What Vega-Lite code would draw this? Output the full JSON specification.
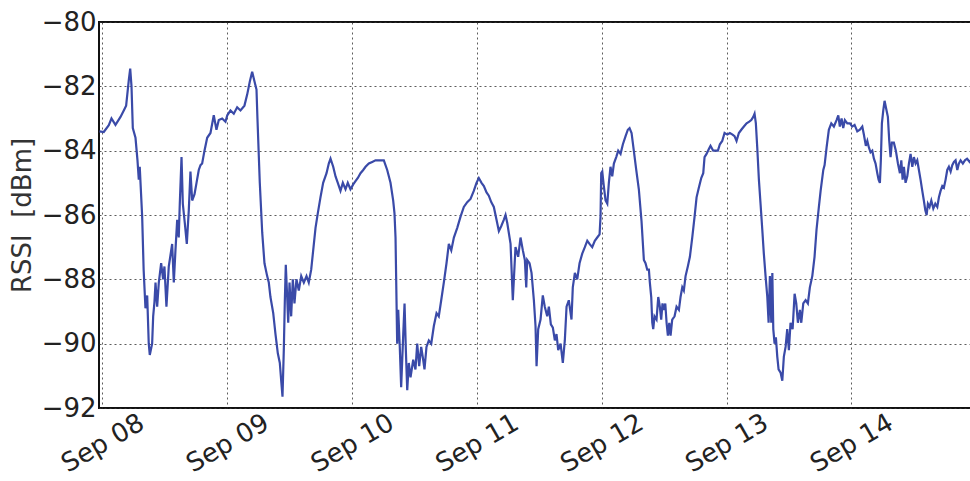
{
  "$schema": "https://vega.github.io/schema/vega-lite/v6.json",
  "autosize": {"type": "none"},
  "padding": {"left": 99, "top": 22, "right": 0, "bottom": 73},
  "width": 872,
  "height": 386,
  "background": "white",
  "config": {
    "view": {"stroke": "#111", "strokeWidth": 2},
    "axis": {"labelFont": "DejaVu Sans", "titleFont": "DejaVu Sans"}
  },
  "data": {"values": [
    {"t": "2014-09-07T23:25", "rssi": -83.4},
    {"t": "2014-09-08T00:15", "rssi": -83.42},
    {"t": "2014-09-08T01:13", "rssi": -83.21},
    {"t": "2014-09-08T01:44", "rssi": -83.0},
    {"t": "2014-09-08T02:30", "rssi": -83.2},
    {"t": "2014-09-08T03:28", "rssi": -82.95},
    {"t": "2014-09-08T04:06", "rssi": -82.75},
    {"t": "2014-09-08T04:33", "rssi": -82.6},
    {"t": "2014-09-08T05:04", "rssi": -81.8},
    {"t": "2014-09-08T05:20", "rssi": -81.45},
    {"t": "2014-09-08T05:35", "rssi": -82.0},
    {"t": "2014-09-08T05:50", "rssi": -83.3},
    {"t": "2014-09-08T06:21", "rssi": -83.6},
    {"t": "2014-09-08T06:44", "rssi": -84.3},
    {"t": "2014-09-08T06:59", "rssi": -84.9},
    {"t": "2014-09-08T07:10", "rssi": -84.5},
    {"t": "2014-09-08T07:38", "rssi": -86.05},
    {"t": "2014-09-08T07:55", "rssi": -87.7},
    {"t": "2014-09-08T08:16", "rssi": -88.9},
    {"t": "2014-09-08T08:36", "rssi": -88.5},
    {"t": "2014-09-08T08:54", "rssi": -90.0},
    {"t": "2014-09-08T09:06", "rssi": -90.35},
    {"t": "2014-09-08T09:33", "rssi": -90.0},
    {"t": "2014-09-08T09:45", "rssi": -89.15},
    {"t": "2014-09-08T10:00", "rssi": -88.7},
    {"t": "2014-09-08T10:12", "rssi": -88.1},
    {"t": "2014-09-08T10:31", "rssi": -88.85},
    {"t": "2014-09-08T10:50", "rssi": -88.1},
    {"t": "2014-09-08T11:17", "rssi": -87.5},
    {"t": "2014-09-08T11:40", "rssi": -88.0},
    {"t": "2014-09-08T11:55", "rssi": -87.6},
    {"t": "2014-09-08T12:18", "rssi": -88.85},
    {"t": "2014-09-08T12:45", "rssi": -87.6},
    {"t": "2014-09-08T13:24", "rssi": -86.9},
    {"t": "2014-09-08T13:43", "rssi": -88.1},
    {"t": "2014-09-08T14:02", "rssi": -87.1},
    {"t": "2014-09-08T14:22", "rssi": -86.15},
    {"t": "2014-09-08T14:40", "rssi": -86.7},
    {"t": "2014-09-08T14:52", "rssi": -85.65},
    {"t": "2014-09-08T15:12", "rssi": -84.2},
    {"t": "2014-09-08T15:27", "rssi": -85.65},
    {"t": "2014-09-08T15:50", "rssi": -86.25},
    {"t": "2014-09-08T16:13", "rssi": -86.9},
    {"t": "2014-09-08T16:36", "rssi": -85.85},
    {"t": "2014-09-08T16:55", "rssi": -84.65},
    {"t": "2014-09-08T17:15", "rssi": -85.55},
    {"t": "2014-09-08T17:42", "rssi": -85.35},
    {"t": "2014-09-08T18:05", "rssi": -85.0},
    {"t": "2014-09-08T18:31", "rssi": -84.6},
    {"t": "2014-09-08T18:51", "rssi": -84.45},
    {"t": "2014-09-08T19:10", "rssi": -84.4},
    {"t": "2014-09-08T19:37", "rssi": -84.0},
    {"t": "2014-09-08T20:08", "rssi": -83.6},
    {"t": "2014-09-08T20:46", "rssi": -83.45},
    {"t": "2014-09-08T21:24", "rssi": -82.9},
    {"t": "2014-09-08T21:55", "rssi": -83.35},
    {"t": "2014-09-08T22:22", "rssi": -83.05},
    {"t": "2014-09-08T23:01", "rssi": -83.0},
    {"t": "2014-09-08T23:39", "rssi": -83.1},
    {"t": "2014-09-09T00:00", "rssi": -82.9},
    {"t": "2014-09-09T00:37", "rssi": -82.75},
    {"t": "2014-09-09T01:15", "rssi": -82.85},
    {"t": "2014-09-09T01:54", "rssi": -82.65},
    {"t": "2014-09-09T02:32", "rssi": -82.75},
    {"t": "2014-09-09T03:18", "rssi": -82.6},
    {"t": "2014-09-09T03:50", "rssi": -82.25},
    {"t": "2014-09-09T04:20", "rssi": -81.85},
    {"t": "2014-09-09T04:47", "rssi": -81.55},
    {"t": "2014-09-09T05:14", "rssi": -81.85},
    {"t": "2014-09-09T05:37", "rssi": -82.1},
    {"t": "2014-09-09T05:48", "rssi": -83.0},
    {"t": "2014-09-09T06:15", "rssi": -85.0},
    {"t": "2014-09-09T06:43", "rssi": -86.55},
    {"t": "2014-09-09T07:09", "rssi": -87.5},
    {"t": "2014-09-09T07:40", "rssi": -87.9},
    {"t": "2014-09-09T07:59", "rssi": -88.1},
    {"t": "2014-09-09T08:18", "rssi": -88.55},
    {"t": "2014-09-09T08:50", "rssi": -89.05},
    {"t": "2014-09-09T09:16", "rssi": -89.7},
    {"t": "2014-09-09T09:43", "rssi": -90.3},
    {"t": "2014-09-09T10:06", "rssi": -90.6},
    {"t": "2014-09-09T10:25", "rssi": -91.25},
    {"t": "2014-09-09T10:37", "rssi": -91.65},
    {"t": "2014-09-09T10:52", "rssi": -90.2},
    {"t": "2014-09-09T11:04", "rssi": -88.65},
    {"t": "2014-09-09T11:15", "rssi": -87.55},
    {"t": "2014-09-09T11:31", "rssi": -88.55},
    {"t": "2014-09-09T11:43", "rssi": -89.35},
    {"t": "2014-09-09T11:58", "rssi": -88.1},
    {"t": "2014-09-09T12:17", "rssi": -89.15},
    {"t": "2014-09-09T12:36", "rssi": -88.0},
    {"t": "2014-09-09T12:55", "rssi": -88.75},
    {"t": "2014-09-09T13:18", "rssi": -88.0},
    {"t": "2014-09-09T13:45", "rssi": -88.35},
    {"t": "2014-09-09T14:13", "rssi": -87.9},
    {"t": "2014-09-09T14:43", "rssi": -88.1},
    {"t": "2014-09-09T15:14", "rssi": -87.9},
    {"t": "2014-09-09T15:40", "rssi": -88.1},
    {"t": "2014-09-09T16:08", "rssi": -87.7},
    {"t": "2014-09-09T16:31", "rssi": -87.1},
    {"t": "2014-09-09T16:58", "rssi": -86.4},
    {"t": "2014-09-09T17:24", "rssi": -85.95},
    {"t": "2014-09-09T17:55", "rssi": -85.45},
    {"t": "2014-09-09T18:26", "rssi": -85.0},
    {"t": "2014-09-09T19:05", "rssi": -84.7},
    {"t": "2014-09-09T19:31", "rssi": -84.4},
    {"t": "2014-09-09T19:51", "rssi": -84.25},
    {"t": "2014-09-09T20:22", "rssi": -84.5},
    {"t": "2014-09-09T20:49", "rssi": -84.8},
    {"t": "2014-09-09T21:15", "rssi": -85.0},
    {"t": "2014-09-09T21:46", "rssi": -85.25},
    {"t": "2014-09-09T22:13", "rssi": -85.0},
    {"t": "2014-09-09T22:44", "rssi": -85.2},
    {"t": "2014-09-09T23:10", "rssi": -85.0},
    {"t": "2014-09-09T23:41", "rssi": -85.2},
    {"t": "2014-09-10T00:13", "rssi": -85.05},
    {"t": "2014-09-10T00:39", "rssi": -84.95},
    {"t": "2014-09-10T01:06", "rssi": -84.85},
    {"t": "2014-09-10T01:37", "rssi": -84.7},
    {"t": "2014-09-10T02:08", "rssi": -84.6},
    {"t": "2014-09-10T02:35", "rssi": -84.5},
    {"t": "2014-09-10T03:13", "rssi": -84.4},
    {"t": "2014-09-10T03:52", "rssi": -84.35},
    {"t": "2014-09-10T04:30", "rssi": -84.3},
    {"t": "2014-09-10T05:08", "rssi": -84.3},
    {"t": "2014-09-10T06:06", "rssi": -84.3},
    {"t": "2014-09-10T06:45", "rssi": -84.6},
    {"t": "2014-09-10T07:23", "rssi": -85.0},
    {"t": "2014-09-10T07:54", "rssi": -85.55},
    {"t": "2014-09-10T08:09", "rssi": -85.95},
    {"t": "2014-09-10T08:21", "rssi": -86.7},
    {"t": "2014-09-10T08:29", "rssi": -88.1},
    {"t": "2014-09-10T08:40", "rssi": -90.0},
    {"t": "2014-09-10T08:52", "rssi": -88.95},
    {"t": "2014-09-10T09:10", "rssi": -90.1},
    {"t": "2014-09-10T09:26", "rssi": -91.35},
    {"t": "2014-09-10T09:50", "rssi": -89.7},
    {"t": "2014-09-10T10:05", "rssi": -88.75},
    {"t": "2014-09-10T10:20", "rssi": -90.2},
    {"t": "2014-09-10T10:36", "rssi": -91.45},
    {"t": "2014-09-10T10:54", "rssi": -90.6},
    {"t": "2014-09-10T11:14", "rssi": -91.05},
    {"t": "2014-09-10T11:45", "rssi": -90.5},
    {"t": "2014-09-10T12:11", "rssi": -90.8},
    {"t": "2014-09-10T12:31", "rssi": -90.0},
    {"t": "2014-09-10T12:54", "rssi": -90.7},
    {"t": "2014-09-10T13:17", "rssi": -90.1},
    {"t": "2014-09-10T13:40", "rssi": -90.5},
    {"t": "2014-09-10T13:55", "rssi": -90.8},
    {"t": "2014-09-10T14:18", "rssi": -90.1},
    {"t": "2014-09-10T14:45", "rssi": -89.9},
    {"t": "2014-09-10T15:13", "rssi": -90.0},
    {"t": "2014-09-10T15:43", "rssi": -89.45},
    {"t": "2014-09-10T16:14", "rssi": -89.05},
    {"t": "2014-09-10T16:40", "rssi": -89.15},
    {"t": "2014-09-10T17:08", "rssi": -88.65},
    {"t": "2014-09-10T17:38", "rssi": -88.1},
    {"t": "2014-09-10T18:09", "rssi": -87.5},
    {"t": "2014-09-10T18:36", "rssi": -86.9},
    {"t": "2014-09-10T19:04", "rssi": -87.1},
    {"t": "2014-09-10T19:34", "rssi": -86.7},
    {"t": "2014-09-10T20:13", "rssi": -86.4},
    {"t": "2014-09-10T20:51", "rssi": -86.05},
    {"t": "2014-09-10T21:29", "rssi": -85.75},
    {"t": "2014-09-10T22:08", "rssi": -85.6},
    {"t": "2014-09-10T22:46", "rssi": -85.5},
    {"t": "2014-09-10T23:24", "rssi": -85.25},
    {"t": "2014-09-10T23:55", "rssi": -85.0},
    {"t": "2014-09-11T00:22", "rssi": -84.85},
    {"t": "2014-09-11T00:53", "rssi": -85.0},
    {"t": "2014-09-11T01:20", "rssi": -85.1},
    {"t": "2014-09-11T01:51", "rssi": -85.3},
    {"t": "2014-09-11T02:17", "rssi": -85.4},
    {"t": "2014-09-11T02:45", "rssi": -85.6},
    {"t": "2014-09-11T03:15", "rssi": -85.75},
    {"t": "2014-09-11T03:46", "rssi": -86.15},
    {"t": "2014-09-11T04:13", "rssi": -86.5},
    {"t": "2014-09-11T04:40", "rssi": -86.35},
    {"t": "2014-09-11T05:10", "rssi": -86.15},
    {"t": "2014-09-11T05:30", "rssi": -86.0},
    {"t": "2014-09-11T05:50", "rssi": -86.25},
    {"t": "2014-09-11T06:28", "rssi": -86.9},
    {"t": "2014-09-11T06:54", "rssi": -88.65},
    {"t": "2014-09-11T07:25", "rssi": -87.0},
    {"t": "2014-09-11T07:56", "rssi": -87.3},
    {"t": "2014-09-11T08:23", "rssi": -86.7},
    {"t": "2014-09-11T08:50", "rssi": -87.1},
    {"t": "2014-09-11T09:13", "rssi": -87.4},
    {"t": "2014-09-11T09:29", "rssi": -88.25},
    {"t": "2014-09-11T09:40", "rssi": -87.4},
    {"t": "2014-09-11T10:07", "rssi": -87.5},
    {"t": "2014-09-11T10:30", "rssi": -87.8},
    {"t": "2014-09-11T10:57", "rssi": -88.65},
    {"t": "2014-09-11T11:16", "rssi": -89.45},
    {"t": "2014-09-11T11:28", "rssi": -90.7},
    {"t": "2014-09-11T11:47", "rssi": -89.55},
    {"t": "2014-09-11T12:14", "rssi": -89.25},
    {"t": "2014-09-11T12:40", "rssi": -88.5},
    {"t": "2014-09-11T13:03", "rssi": -88.85},
    {"t": "2014-09-11T13:31", "rssi": -89.15},
    {"t": "2014-09-11T13:50", "rssi": -88.85},
    {"t": "2014-09-11T14:13", "rssi": -89.4},
    {"t": "2014-09-11T14:36", "rssi": -89.5},
    {"t": "2014-09-11T14:59", "rssi": -89.9},
    {"t": "2014-09-11T15:18", "rssi": -89.7},
    {"t": "2014-09-11T15:38", "rssi": -90.2},
    {"t": "2014-09-11T16:05", "rssi": -90.0},
    {"t": "2014-09-11T16:31", "rssi": -90.6},
    {"t": "2014-09-11T16:54", "rssi": -89.9},
    {"t": "2014-09-11T17:14", "rssi": -88.85},
    {"t": "2014-09-11T17:40", "rssi": -88.65},
    {"t": "2014-09-11T18:11", "rssi": -89.25},
    {"t": "2014-09-11T18:26", "rssi": -88.25},
    {"t": "2014-09-11T18:50", "rssi": -87.8},
    {"t": "2014-09-11T19:17", "rssi": -88.0},
    {"t": "2014-09-11T19:44", "rssi": -87.5},
    {"t": "2014-09-11T20:15", "rssi": -87.2},
    {"t": "2014-09-11T20:45", "rssi": -87.0},
    {"t": "2014-09-11T21:13", "rssi": -86.8},
    {"t": "2014-09-11T21:39", "rssi": -86.9},
    {"t": "2014-09-11T22:10", "rssi": -87.0},
    {"t": "2014-09-11T22:40", "rssi": -86.8},
    {"t": "2014-09-11T23:08", "rssi": -86.7},
    {"t": "2014-09-11T23:35", "rssi": -86.6},
    {"t": "2014-09-11T23:46", "rssi": -86.05},
    {"t": "2014-09-11T23:54", "rssi": -84.7},
    {"t": "2014-09-12T00:06", "rssi": -84.65},
    {"t": "2014-09-12T00:24", "rssi": -85.1},
    {"t": "2014-09-12T00:44", "rssi": -85.55},
    {"t": "2014-09-12T01:04", "rssi": -85.65},
    {"t": "2014-09-12T01:22", "rssi": -85.0},
    {"t": "2014-09-12T01:41", "rssi": -84.5},
    {"t": "2014-09-12T02:01", "rssi": -84.8},
    {"t": "2014-09-12T02:20", "rssi": -84.4},
    {"t": "2014-09-12T02:47", "rssi": -84.2},
    {"t": "2014-09-12T03:10", "rssi": -84.0},
    {"t": "2014-09-12T03:37", "rssi": -84.1},
    {"t": "2014-09-12T04:04", "rssi": -83.8},
    {"t": "2014-09-12T04:35", "rssi": -83.55},
    {"t": "2014-09-12T05:01", "rssi": -83.35},
    {"t": "2014-09-12T05:21", "rssi": -83.3},
    {"t": "2014-09-12T05:44", "rssi": -83.45},
    {"t": "2014-09-12T06:10", "rssi": -84.0},
    {"t": "2014-09-12T06:38", "rssi": -84.6},
    {"t": "2014-09-12T07:08", "rssi": -85.2},
    {"t": "2014-09-12T07:39", "rssi": -86.2},
    {"t": "2014-09-12T08:06", "rssi": -87.4},
    {"t": "2014-09-12T08:25", "rssi": -87.5},
    {"t": "2014-09-12T08:45", "rssi": -87.7},
    {"t": "2014-09-12T09:04", "rssi": -87.7},
    {"t": "2014-09-12T09:15", "rssi": -88.1},
    {"t": "2014-09-12T09:31", "rssi": -88.55},
    {"t": "2014-09-12T09:43", "rssi": -89.35},
    {"t": "2014-09-12T09:54", "rssi": -89.55},
    {"t": "2014-09-12T10:09", "rssi": -89.15},
    {"t": "2014-09-12T10:32", "rssi": -89.25},
    {"t": "2014-09-12T10:52", "rssi": -88.55},
    {"t": "2014-09-12T11:10", "rssi": -88.85},
    {"t": "2014-09-12T11:26", "rssi": -89.25},
    {"t": "2014-09-12T11:41", "rssi": -88.75},
    {"t": "2014-09-12T11:56", "rssi": -88.95},
    {"t": "2014-09-12T12:13", "rssi": -88.75},
    {"t": "2014-09-12T12:28", "rssi": -89.35},
    {"t": "2014-09-12T12:43", "rssi": -89.75},
    {"t": "2014-09-12T12:59", "rssi": -89.35},
    {"t": "2014-09-12T13:14", "rssi": -89.75},
    {"t": "2014-09-12T13:33", "rssi": -89.25},
    {"t": "2014-09-12T14:00", "rssi": -89.15},
    {"t": "2014-09-12T14:23", "rssi": -88.85},
    {"t": "2014-09-12T14:50", "rssi": -88.95},
    {"t": "2014-09-12T15:09", "rssi": -88.55},
    {"t": "2014-09-12T15:29", "rssi": -88.25},
    {"t": "2014-09-12T15:47", "rssi": -88.35},
    {"t": "2014-09-12T16:07", "rssi": -87.9},
    {"t": "2014-09-12T16:33", "rssi": -87.6},
    {"t": "2014-09-12T16:57", "rssi": -87.3},
    {"t": "2014-09-12T17:24", "rssi": -86.7},
    {"t": "2014-09-12T17:51", "rssi": -86.05},
    {"t": "2014-09-12T18:14", "rssi": -85.45},
    {"t": "2014-09-12T18:40", "rssi": -85.15},
    {"t": "2014-09-12T19:08", "rssi": -84.85},
    {"t": "2014-09-12T19:31", "rssi": -84.7},
    {"t": "2014-09-12T19:46", "rssi": -84.2},
    {"t": "2014-09-12T20:09", "rssi": -84.1},
    {"t": "2014-09-12T20:36", "rssi": -83.95},
    {"t": "2014-09-12T20:55", "rssi": -83.85},
    {"t": "2014-09-12T21:26", "rssi": -84.0},
    {"t": "2014-09-12T21:53", "rssi": -84.0},
    {"t": "2014-09-12T22:20", "rssi": -84.0},
    {"t": "2014-09-12T22:43", "rssi": -83.8},
    {"t": "2014-09-12T23:10", "rssi": -83.7},
    {"t": "2014-09-12T23:37", "rssi": -83.45},
    {"t": "2014-09-13T00:08", "rssi": -83.5},
    {"t": "2014-09-13T00:38", "rssi": -83.45},
    {"t": "2014-09-13T01:09", "rssi": -83.5},
    {"t": "2014-09-13T01:32", "rssi": -83.55},
    {"t": "2014-09-13T01:55", "rssi": -83.7},
    {"t": "2014-09-13T02:22", "rssi": -83.45},
    {"t": "2014-09-13T02:50", "rssi": -83.35},
    {"t": "2014-09-13T03:20", "rssi": -83.25},
    {"t": "2014-09-13T03:51", "rssi": -83.15},
    {"t": "2014-09-13T04:22", "rssi": -83.1},
    {"t": "2014-09-13T04:45", "rssi": -83.05},
    {"t": "2014-09-13T05:08", "rssi": -82.95},
    {"t": "2014-09-13T05:23", "rssi": -82.85},
    {"t": "2014-09-13T05:38", "rssi": -83.15},
    {"t": "2014-09-13T05:54", "rssi": -83.9},
    {"t": "2014-09-13T06:13", "rssi": -84.9},
    {"t": "2014-09-13T06:32", "rssi": -85.65},
    {"t": "2014-09-13T06:52", "rssi": -86.45},
    {"t": "2014-09-13T07:10", "rssi": -87.2},
    {"t": "2014-09-13T07:30", "rssi": -87.9},
    {"t": "2014-09-13T07:50", "rssi": -88.55},
    {"t": "2014-09-13T08:05", "rssi": -89.35},
    {"t": "2014-09-13T08:20", "rssi": -87.9},
    {"t": "2014-09-13T08:36", "rssi": -89.35},
    {"t": "2014-09-13T08:48", "rssi": -87.8},
    {"t": "2014-09-13T08:59", "rssi": -89.55},
    {"t": "2014-09-13T09:14", "rssi": -90.0},
    {"t": "2014-09-13T09:29", "rssi": -89.8},
    {"t": "2014-09-13T09:45", "rssi": -90.4},
    {"t": "2014-09-13T10:00", "rssi": -90.8},
    {"t": "2014-09-13T10:23", "rssi": -90.9},
    {"t": "2014-09-13T10:43", "rssi": -91.15},
    {"t": "2014-09-13T11:01", "rssi": -90.4},
    {"t": "2014-09-13T11:21", "rssi": -90.1},
    {"t": "2014-09-13T11:40", "rssi": -89.55},
    {"t": "2014-09-13T11:59", "rssi": -90.2},
    {"t": "2014-09-13T12:18", "rssi": -89.35},
    {"t": "2014-09-13T12:42", "rssi": -89.55},
    {"t": "2014-09-13T13:05", "rssi": -88.45},
    {"t": "2014-09-13T13:24", "rssi": -88.75},
    {"t": "2014-09-13T13:43", "rssi": -89.35},
    {"t": "2014-09-13T14:06", "rssi": -88.95},
    {"t": "2014-09-13T14:22", "rssi": -89.35},
    {"t": "2014-09-13T14:45", "rssi": -88.75},
    {"t": "2014-09-13T15:12", "rssi": -88.65},
    {"t": "2014-09-13T15:38", "rssi": -88.75},
    {"t": "2014-09-13T16:01", "rssi": -88.25},
    {"t": "2014-09-13T16:29", "rssi": -87.9},
    {"t": "2014-09-13T16:55", "rssi": -87.3},
    {"t": "2014-09-13T17:18", "rssi": -86.45},
    {"t": "2014-09-13T17:45", "rssi": -85.75},
    {"t": "2014-09-13T18:05", "rssi": -85.25},
    {"t": "2014-09-13T18:36", "rssi": -84.6},
    {"t": "2014-09-13T18:51", "rssi": -84.45},
    {"t": "2014-09-13T19:14", "rssi": -83.9},
    {"t": "2014-09-13T19:40", "rssi": -83.35},
    {"t": "2014-09-13T20:08", "rssi": -83.15},
    {"t": "2014-09-13T20:38", "rssi": -83.25},
    {"t": "2014-09-13T21:09", "rssi": -83.05},
    {"t": "2014-09-13T21:29", "rssi": -82.9},
    {"t": "2014-09-13T21:47", "rssi": -83.25},
    {"t": "2014-09-13T22:07", "rssi": -83.0},
    {"t": "2014-09-13T22:26", "rssi": -83.3},
    {"t": "2014-09-13T22:45", "rssi": -83.05},
    {"t": "2014-09-13T23:13", "rssi": -83.15},
    {"t": "2014-09-13T23:43", "rssi": -83.15},
    {"t": "2014-09-14T00:10", "rssi": -83.25},
    {"t": "2014-09-14T00:37", "rssi": -83.2},
    {"t": "2014-09-14T01:08", "rssi": -83.4},
    {"t": "2014-09-14T01:38", "rssi": -83.35},
    {"t": "2014-09-14T02:06", "rssi": -83.25},
    {"t": "2014-09-14T02:24", "rssi": -83.5},
    {"t": "2014-09-14T02:47", "rssi": -83.85},
    {"t": "2014-09-14T03:04", "rssi": -83.7},
    {"t": "2014-09-14T03:22", "rssi": -83.9},
    {"t": "2014-09-14T03:41", "rssi": -84.05},
    {"t": "2014-09-14T04:01", "rssi": -84.0},
    {"t": "2014-09-14T04:20", "rssi": -84.25},
    {"t": "2014-09-14T04:39", "rssi": -84.4},
    {"t": "2014-09-14T04:59", "rssi": -84.7},
    {"t": "2014-09-14T05:14", "rssi": -84.9},
    {"t": "2014-09-14T05:29", "rssi": -85.0},
    {"t": "2014-09-14T05:40", "rssi": -84.3},
    {"t": "2014-09-14T05:52", "rssi": -83.15},
    {"t": "2014-09-14T06:08", "rssi": -82.75},
    {"t": "2014-09-14T06:23", "rssi": -82.45},
    {"t": "2014-09-14T06:38", "rssi": -82.65},
    {"t": "2014-09-14T07:01", "rssi": -82.95},
    {"t": "2014-09-14T07:17", "rssi": -83.7},
    {"t": "2014-09-14T07:32", "rssi": -84.2},
    {"t": "2014-09-14T07:47", "rssi": -83.75},
    {"t": "2014-09-14T08:10", "rssi": -83.75},
    {"t": "2014-09-14T08:33", "rssi": -84.0},
    {"t": "2014-09-14T08:57", "rssi": -84.4},
    {"t": "2014-09-14T09:20", "rssi": -84.7},
    {"t": "2014-09-14T09:36", "rssi": -84.3},
    {"t": "2014-09-14T09:51", "rssi": -84.9},
    {"t": "2014-09-14T10:06", "rssi": -84.5},
    {"t": "2014-09-14T10:25", "rssi": -85.0},
    {"t": "2014-09-14T10:45", "rssi": -84.8},
    {"t": "2014-09-14T11:04", "rssi": -84.4},
    {"t": "2014-09-14T11:23", "rssi": -84.1},
    {"t": "2014-09-14T11:43", "rssi": -84.5},
    {"t": "2014-09-14T12:01", "rssi": -84.2},
    {"t": "2014-09-14T12:21", "rssi": -84.4},
    {"t": "2014-09-14T12:40", "rssi": -84.3},
    {"t": "2014-09-14T12:59", "rssi": -84.6},
    {"t": "2014-09-14T13:18", "rssi": -84.9},
    {"t": "2014-09-14T13:38", "rssi": -85.25},
    {"t": "2014-09-14T13:56", "rssi": -85.55},
    {"t": "2014-09-14T14:13", "rssi": -85.85},
    {"t": "2014-09-14T14:28", "rssi": -86.0},
    {"t": "2014-09-14T14:43", "rssi": -85.65},
    {"t": "2014-09-14T15:02", "rssi": -85.75},
    {"t": "2014-09-14T15:22", "rssi": -85.55},
    {"t": "2014-09-14T15:45", "rssi": -85.8},
    {"t": "2014-09-14T16:08", "rssi": -85.65},
    {"t": "2014-09-14T16:31", "rssi": -85.75},
    {"t": "2014-09-14T16:50", "rssi": -85.45},
    {"t": "2014-09-14T17:09", "rssi": -85.25},
    {"t": "2014-09-14T17:29", "rssi": -85.1},
    {"t": "2014-09-14T17:47", "rssi": -85.15},
    {"t": "2014-09-14T18:07", "rssi": -84.9},
    {"t": "2014-09-14T18:26", "rssi": -84.6},
    {"t": "2014-09-14T18:45", "rssi": -84.5},
    {"t": "2014-09-14T19:05", "rssi": -84.65},
    {"t": "2014-09-14T19:24", "rssi": -84.45},
    {"t": "2014-09-14T19:43", "rssi": -84.35},
    {"t": "2014-09-14T20:02", "rssi": -84.3},
    {"t": "2014-09-14T20:22", "rssi": -84.6},
    {"t": "2014-09-14T20:40", "rssi": -84.4},
    {"t": "2014-09-14T21:00", "rssi": -84.3},
    {"t": "2014-09-14T21:26", "rssi": -84.4},
    {"t": "2014-09-14T21:50", "rssi": -84.3},
    {"t": "2014-09-14T22:15", "rssi": -84.25},
    {"t": "2014-09-14T22:45", "rssi": -84.35},
    {"t": "2014-09-14T23:00", "rssi": -84.3}
  ]},
  "mark": {"type": "line", "color": "#3a4aa8", "strokeWidth": 2.2, "clip": true},
  "encoding": {
    "x": {
      "field": "t",
      "type": "temporal",
      "scale": {"domain": ["2014-09-07T23:20", "2014-09-14T23:00"], "nice": false},
      "axis": {
        "title": null,
        "format": "%b %d",
        "tickCount": {"interval": "day", "step": 1},
        "labelAngle": -30,
        "labelAlign": "center",
        "labelBaseline": "middle",
        "labelPadding": 35,
        "labelFontSize": 26,
        "labelColor": "#222",
        "ticks": false,
        "tickSize": 0,
        "domain": false,
        "grid": true,
        "gridColor": "#333",
        "gridDash": [2, 3],
        "gridWidth": 1,
        "gridOpacity": 0.8,
        "labelOverlap": false,
        "labelFlush": false
      }
    },
    "y": {
      "field": "rssi",
      "type": "quantitative",
      "scale": {"domain": [-92, -80], "nice": false, "zero": false},
      "axis": {
        "title": "RSSI\u00a0\u00a0[dBm]",
        "titleFontSize": 26,
        "titleFontWeight": "normal",
        "titleColor": "#333",
        "titlePadding": 6,
        "values": [-92, -90, -88, -86, -84, -82, -80],
        "format": "d",
        "labelFontSize": 26,
        "labelColor": "#222",
        "labelPadding": 3,
        "ticks": false,
        "tickSize": 0,
        "domain": false,
        "grid": true,
        "gridColor": "#333",
        "gridDash": [2, 3],
        "gridWidth": 1,
        "gridOpacity": 0.8,
        "labelOverlap": false,
        "labelFlush": false
      }
    }
  }
}
